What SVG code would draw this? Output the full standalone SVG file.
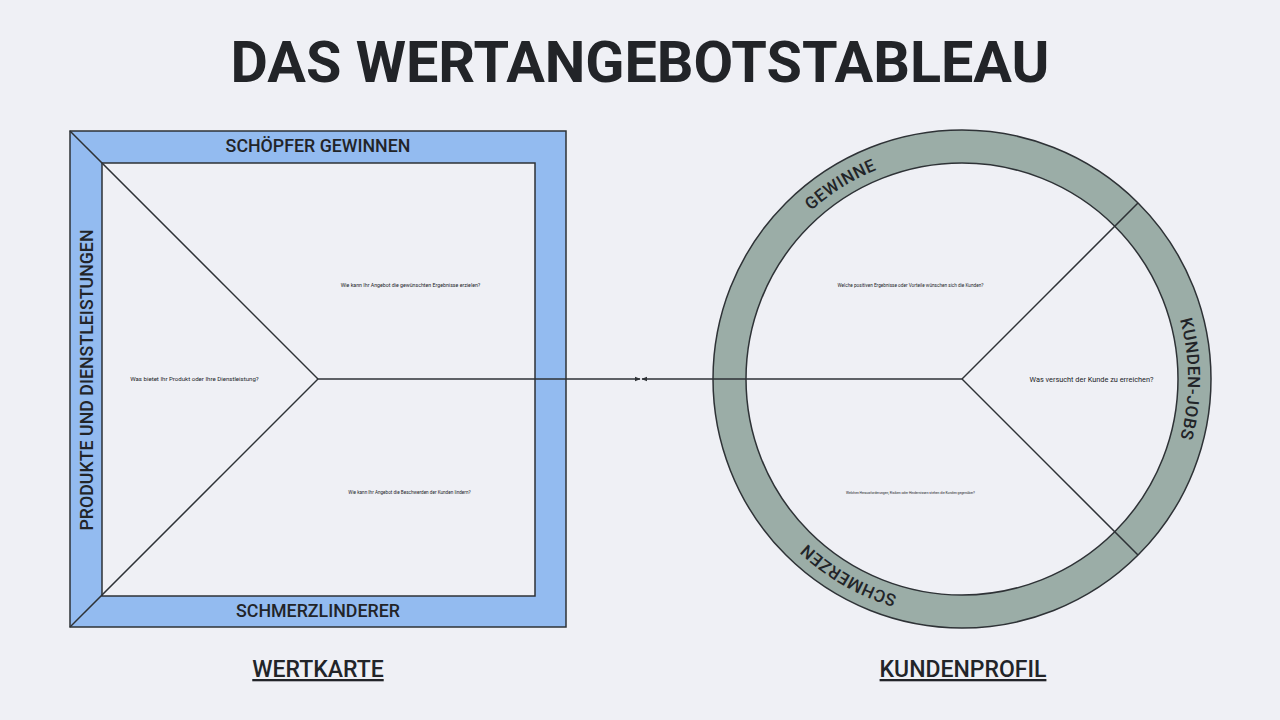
<svg xmlns="http://www.w3.org/2000/svg" width="1280" height="720" viewBox="0 0 1280 720">
<style>
.t{font-family:Roboto,"Liberation Sans",sans-serif;fill:#222428}
.lbl{font-size:17.8px;font-weight:500}
.sm{font-weight:400}
.ln{stroke:#2e3236;stroke-width:1.5;fill:none}
.ring{font-size:17px;font-weight:500;letter-spacing:0.5px}
</style>
<defs>
<marker id="ah" viewBox="0 0 10 10" refX="9" refY="5" markerWidth="6" markerHeight="6" orient="auto" markerUnits="userSpaceOnUse">
<path d="M0,1 L10,5 L0,9 z" fill="#2e3236"/>
</marker>
<path id="pGew" d="M736.14,386.89 A226,226 0 0 1 1068.1,179.45"/>
<path id="pJobs" d="M1075,183.28 A226,226 0 0 1 1075,574.72"/>
<path id="pSch" d="M1075,574.72 A226,226 0 0 1 736,379"/>
</defs>
<rect width="1280" height="720" fill="#eff0f5"/>
<text class="t" x="640" y="82" text-anchor="middle" font-size="57.5" font-weight="700">DAS WERTANGEBOTSTABLEAU</text>

<g id="wertkarte">
<rect x="70" y="131" width="496" height="496" fill="#93bbf0" stroke="#2e3236" stroke-width="1.5"/>
<rect x="102" y="163" width="433" height="433" fill="#eff0f5" stroke="#2e3236" stroke-width="1.5"/>
<line class="ln" x1="70" y1="131" x2="318" y2="379"/>
<line class="ln" x1="70" y1="627" x2="318" y2="379"/>
<text class="t lbl" x="318" y="152" text-anchor="middle">SCHÖPFER GEWINNEN</text>
<text class="t lbl" x="318" y="617" text-anchor="middle">SCHMERZLINDERER</text>
<text class="t lbl" transform="translate(93,380) rotate(-90)" text-anchor="middle">PRODUKTE UND DIENSTLEISTUNGEN</text>
<text class="t sm" x="410.5" y="287" text-anchor="middle" font-size="5.25">Wie kann Ihr Angebot die gewünschten Ergebnisse erzielen?</text>
<text class="t sm" x="194.5" y="381" text-anchor="middle" font-size="6.1">Was bietet Ihr Produkt oder Ihre Dienstleistung?</text>
<text class="t sm" x="409.5" y="494" text-anchor="middle" font-size="4.65">Wie kann Ihr Angebot die Beschwerden der Kunden lindern?</text>
<text class="t" x="318" y="677" text-anchor="middle" font-size="23" font-weight="500" text-decoration="underline">WERTKARTE</text>
</g>

<g id="kundenprofil">
<circle cx="962" cy="379" r="232.5" fill="none" stroke="#9bada7" stroke-width="33"/>
<circle cx="962" cy="379" r="249" fill="none" stroke="#2e3236" stroke-width="1.5"/>
<circle cx="962" cy="379" r="216" fill="none" stroke="#2e3236" stroke-width="1.5"/>
<line class="ln" x1="962" y1="379" x2="1138" y2="203"/>
<line class="ln" x1="962" y1="379" x2="1138" y2="555"/>
<text class="t ring"><textPath href="#pGew" startOffset="50%" text-anchor="middle">GEWINNE</textPath></text>
<text class="t ring"><textPath href="#pJobs" startOffset="50%" text-anchor="middle">KUNDEN-JOBS</textPath></text>
<text class="t ring"><textPath href="#pSch" startOffset="50%" text-anchor="middle">SCHMERZEN</textPath></text>
<text class="t sm" x="910.5" y="287" text-anchor="middle" font-size="4.7">Welche positiven Ergebnisse oder Vorteile wünschen sich die Kunden?</text>
<text class="t sm" x="1091.5" y="382" text-anchor="middle" font-size="7.35">Was versucht der Kunde zu erreichen?</text>
<text class="t sm" x="910.5" y="494" text-anchor="middle" font-size="3.35">Welchen Herausforderungen, Risiken oder Hindernissen stehen die Kunden gegenüber?</text>
<text class="t" x="963" y="677" text-anchor="middle" font-size="23" font-weight="500" text-decoration="underline">KUNDENPROFIL</text>
</g>

<g id="connectors">
<line class="ln" x1="318" y1="379" x2="640" y2="379" marker-end="url(#ah)"/>
<line class="ln" x1="962" y1="379" x2="642" y2="379" marker-end="url(#ah)"/>
</g>
</svg>
